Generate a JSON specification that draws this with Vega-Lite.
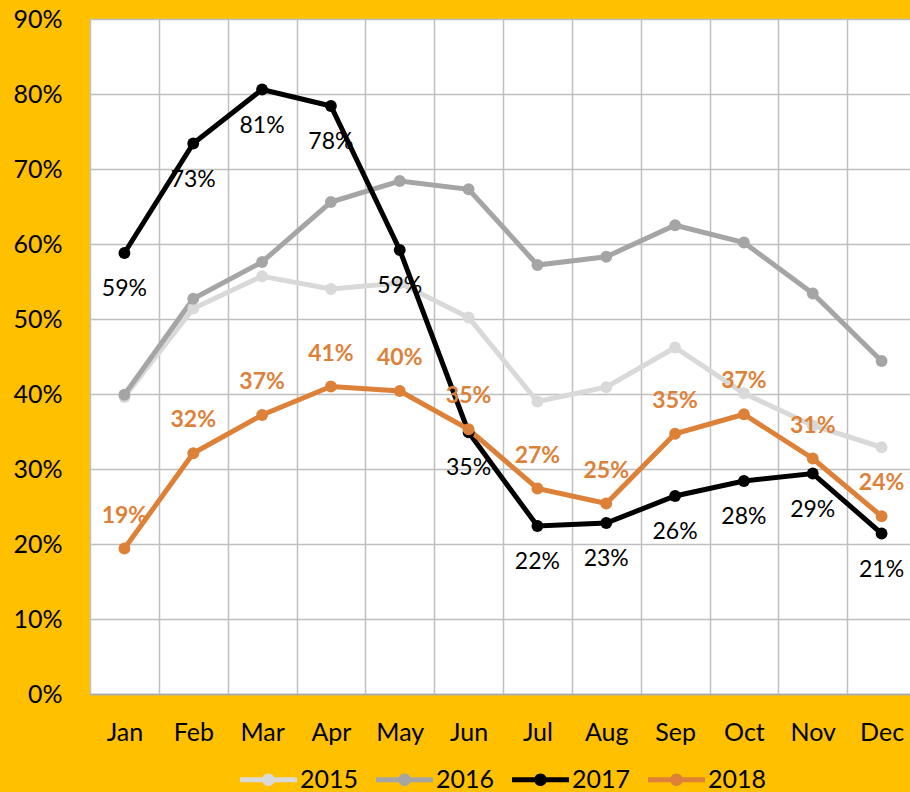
{
  "$schema": "https://vega.github.io/schema/vega-lite/v6.json",
  "width": 826,
  "height": 675,
  "autosize": {"type": "none"},
  "padding": {"left": 90, "top": 19, "right": 0, "bottom": 98},
  "background": "#FFC000",
  "config": {"view": {"stroke": null, "fill": "#FFFFFF"}, "font": "Lato"},
  "data": {
    "values": [
      {"year": "2015", "month": "Jan", "value": 0.396},
      {"year": "2015", "month": "Feb", "value": 0.514},
      {"year": "2015", "month": "Mar", "value": 0.557},
      {"year": "2015", "month": "Apr", "value": 0.540},
      {"year": "2015", "month": "May", "value": 0.548},
      {"year": "2015", "month": "Jun", "value": 0.502},
      {"year": "2015", "month": "Jul", "value": 0.390},
      {"year": "2015", "month": "Aug", "value": 0.409},
      {"year": "2015", "month": "Sep", "value": 0.462},
      {"year": "2015", "month": "Oct", "value": 0.401},
      {"year": "2015", "month": "Nov", "value": 0.358},
      {"year": "2015", "month": "Dec", "value": 0.329},
      {"year": "2016", "month": "Jan", "value": 0.399},
      {"year": "2016", "month": "Feb", "value": 0.527},
      {"year": "2016", "month": "Mar", "value": 0.576},
      {"year": "2016", "month": "Apr", "value": 0.656},
      {"year": "2016", "month": "May", "value": 0.684},
      {"year": "2016", "month": "Jun", "value": 0.673},
      {"year": "2016", "month": "Jul", "value": 0.572},
      {"year": "2016", "month": "Aug", "value": 0.583},
      {"year": "2016", "month": "Sep", "value": 0.625},
      {"year": "2016", "month": "Oct", "value": 0.602},
      {"year": "2016", "month": "Nov", "value": 0.534},
      {"year": "2016", "month": "Dec", "value": 0.444},
      {"year": "2017", "month": "Jan", "value": 0.588},
      {"year": "2017", "month": "Feb", "value": 0.734},
      {"year": "2017", "month": "Mar", "value": 0.806},
      {"year": "2017", "month": "Apr", "value": 0.784},
      {"year": "2017", "month": "May", "value": 0.592},
      {"year": "2017", "month": "Jun", "value": 0.349},
      {"year": "2017", "month": "Jul", "value": 0.224},
      {"year": "2017", "month": "Aug", "value": 0.228},
      {"year": "2017", "month": "Sep", "value": 0.264},
      {"year": "2017", "month": "Oct", "value": 0.284},
      {"year": "2017", "month": "Nov", "value": 0.294},
      {"year": "2017", "month": "Dec", "value": 0.214},
      {"year": "2018", "month": "Jan", "value": 0.194},
      {"year": "2018", "month": "Feb", "value": 0.321},
      {"year": "2018", "month": "Mar", "value": 0.372},
      {"year": "2018", "month": "Apr", "value": 0.410},
      {"year": "2018", "month": "May", "value": 0.404},
      {"year": "2018", "month": "Jun", "value": 0.353},
      {"year": "2018", "month": "Jul", "value": 0.274},
      {"year": "2018", "month": "Aug", "value": 0.254},
      {"year": "2018", "month": "Sep", "value": 0.347},
      {"year": "2018", "month": "Oct", "value": 0.373},
      {"year": "2018", "month": "Nov", "value": 0.314},
      {"year": "2018", "month": "Dec", "value": 0.237}
    ]
  },
  "encoding": {
    "x": {
      "field": "month",
      "type": "ordinal",
      "sort": ["Jan", "Feb", "Mar", "Apr", "May", "Jun", "Jul", "Aug", "Sep", "Oct", "Nov", "Dec"],
      "scale": {"type": "band", "paddingInner": 0, "paddingOuter": 0},
      "axis": {
        "title": null,
        "tickBand": "extent",
        "ticks": false,
        "grid": true,
        "gridColor": "#BFBFBF",
        "gridWidth": 1.5,
        "domainColor": "#A6A6A6",
        "domainWidth": 1.5,
        "labelFontSize": 25,
        "labelColor": "#000000",
        "labelPadding": 26,
        "labelAngle": 0
      }
    },
    "y": {
      "field": "value",
      "type": "quantitative",
      "scale": {"domain": [0, 0.9], "nice": false},
      "axis": {
        "title": null,
        "values": [0, 0.1, 0.2, 0.3, 0.4, 0.5, 0.6, 0.7, 0.8, 0.9],
        "format": ".0%",
        "labelFontSize": 25,
        "labelColor": "#000000",
        "labelPadding": 28,
        "ticks": false,
        "domain": false,
        "gridColor": "#BFBFBF",
        "gridWidth": 1.5
      }
    }
  },
  "layer": [
    {
      "mark": {"type": "line", "strokeWidth": 5, "point": {"filled": true, "size": 140}},
      "encoding": {
        "color": {
          "field": "year",
          "type": "nominal",
          "scale": {"domain": ["2015", "2016", "2017", "2018"], "range": ["#D9D9D9", "#A5A5A5", "#000000", "#DD8139"]},
          "legend": {
            "title": null,
            "orient": "none",
            "legendX": 150,
            "legendY": 732,
            "direction": "horizontal",
            "symbolType": "M-1,-0.09H1V0.09H-1Z M0.22,0A0.22,0.22,0,1,1,-0.22,0A0.22,0.22,0,1,1,0.22,0Z",
            "symbolSize": 3249,
            "symbolStrokeWidth": 0,
            "labelFontSize": 25,
            "labelColor": "#000000",
            "labelOffset": 3,
            "columnPadding": 17,
            "padding": 0,
            "encode": {
              "symbols": {
                "update": {
                  "fill": {"scale": "color", "field": "value"},
                  "stroke": {"value": "transparent"},
                  "strokeWidth": {"value": 0},
                  "opacity": {"value": 1}
                }
              }
            }
          }
        }
      }
    },
    {
      "transform": [{"filter": "datum.year === '2017'"}],
      "mark": {"type": "text", "dy": 36, "fontSize": 23, "color": "#000000"},
      "encoding": {"text": {"field": "value", "type": "quantitative", "format": ".0%"}}
    },
    {
      "transform": [{"filter": "datum.year === '2018'"}],
      "mark": {"type": "text", "dy": -33, "fontSize": 23, "fontWeight": "bold", "color": "#DD8139"},
      "encoding": {"text": {"field": "value", "type": "quantitative", "format": ".0%"}}
    }
  ]
}
